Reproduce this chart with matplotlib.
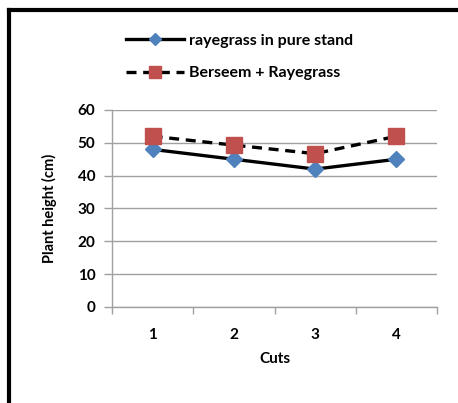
import matplotlib
matplotlib.use("Agg")
import matplotlib.pyplot as plt
from matplotlib.lines import Line2D
import numpy as np

cuts = ["1", "2", "3", "4"]
pure_stand = [48, 45, 42, 45]
mixture = [52, 49.3, 46.7, 52]
series_names = ["rayegrass in pure stand", "Berseem + Rayegrass"]
y_ticks = [0, 10, 20, 30, 40, 50, 60]

W, H = 458, 403
fig = plt.figure(figsize=(W / 100, H / 100), dpi=100)
plt.rcParams['font.family'] = ['Lato', 'DejaVu Sans']

# thick outer frame (left and top edges visible)
fig.add_artist(Line2D([9 / W, 9 / W], [0, 1 - 10 / H], color="black", lw=3, transform=fig.transFigure,
                      solid_capstyle="projecting"))
fig.add_artist(Line2D([9 / W, 1], [1 - 10 / H, 1 - 10 / H], color="black", lw=3, transform=fig.transFigure,
                      solid_capstyle="projecting"))

left, right, top, bottom = 112, 437, 110, 307
ax = fig.add_axes([left / W, 1 - bottom / H, (right - left) / W, (bottom - top) / H])

x = np.arange(len(cuts))
ax.plot(x, pure_stand, color="black", lw=2.4, marker="D", markersize=8,
        markerfacecolor="#4F81BD", markeredgecolor="#4F81BD", zorder=3)
ax.plot(x, mixture, color="black", lw=2.4, ls=(0, (3, 2)), marker="s", markersize=11,
        markerfacecolor="#C0504D", markeredgecolor="#C0504D", zorder=3)

ax.set_xlim(-0.5, len(cuts) - 0.5)
ax.set_ylim(0, 60)
ax.set_yticks(y_ticks)
ax.set_yticklabels([str(v) for v in y_ticks], fontsize=11, fontweight="bold")
ax.set_xticks(x)
ax.set_xticklabels(cuts, fontsize=11, fontweight="bold")
ax.set_xticks(np.arange(-0.5, len(cuts)), minor=True)
ax.tick_params(axis="x", which="major", length=0, pad=15)
ax.tick_params(axis="x", which="minor", length=5, color="#A0A0A0", width=1)
ax.tick_params(axis="y", length=6, color="#A0A0A0", width=1, pad=6)
ax.yaxis.grid(True, color="#A0A0A0", lw=1)
ax.set_axisbelow(True)
for s in ["top", "right"]:
    ax.spines[s].set_visible(False)
for s in ["left", "bottom"]:
    ax.spines[s].set_color("#A0A0A0")
    ax.spines[s].set_linewidth(1)

ax.set_ylabel("Plant height (cm)", fontsize=10.5, fontweight="bold", labelpad=15)
ax.set_xlabel("Cuts", fontsize=11, fontweight="bold", labelpad=7)

# legend drawn above the plot area
handles = [
    Line2D([], [], color="black", lw=2.4, marker="D", markersize=6,
           markerfacecolor="#4F81BD", markeredgecolor="#4F81BD"),
    Line2D([], [], color="black", lw=2.4, ls=(0, (3, 2)), marker="s", markersize=8,
           markerfacecolor="#C0504D", markeredgecolor="#C0504D"),
]
fig.legend(handles, series_names, loc="upper left", bbox_to_anchor=(112 / W, 1 - 19 / H),
           frameon=False, prop={"size": 11.5, "weight": "bold"}, handlelength=3.6,
           handletextpad=0.3, labelspacing=1.15)

fig.savefig("out.png", dpi=100)
